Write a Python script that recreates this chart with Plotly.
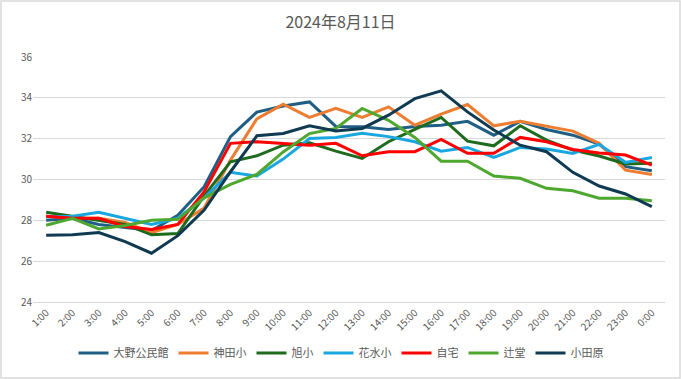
import plotly.graph_objects as go

hours = ["1:00","2:00","3:00","4:00","5:00","6:00","7:00","8:00","9:00","10:00","11:00","12:00",
         "13:00","14:00","15:00","16:00","17:00","18:00","19:00","20:00","21:00","22:00","23:00","0:00"]

ono = [28.0,28.1,27.8,27.65,27.5,28.25,29.65,32.1,33.3,33.6,33.8,32.6,
       32.58,32.45,32.6,32.66,32.85,32.17,32.85,32.45,32.17,31.73,30.63,30.43]
kanda = [28.2,28.1,28.1,27.9,27.4,27.8,28.6,30.95,32.97,33.69,33.04,33.48,
         33.04,33.56,32.66,33.2,33.67,32.63,32.85,32.6,32.37,31.77,30.46,30.25]
asahi = [28.4,28.2,28.0,27.8,27.29,27.35,29.2,30.87,31.16,31.68,31.8,31.39,
         31.03,31.85,32.45,33.04,31.88,31.65,32.63,31.93,31.44,31.15,30.76,30.79]
hanamizu = [28.18,28.2,28.4,28.1,27.8,28.1,29.1,30.35,30.17,31.0,32.01,32.06,
            32.26,32.1,31.85,31.39,31.57,31.08,31.57,31.49,31.28,31.72,30.84,31.08]
jitaku = [28.2,28.1,28.1,27.7,27.55,27.8,29.4,31.77,31.85,31.77,31.68,31.77,
          31.16,31.36,31.36,31.96,31.28,31.28,32.06,31.85,31.47,31.3,31.2,30.7]
tsujido = [27.76,28.1,27.58,27.75,28.0,28.05,29.1,29.76,30.25,31.35,32.25,32.5,
           33.48,32.9,32.06,30.9,30.9,30.17,30.06,29.57,29.45,29.08,29.08,28.96]
odawara = [27.27,27.3,27.4,26.96,26.39,27.25,28.5,30.38,32.14,32.25,32.63,32.38,
           32.5,33.15,33.96,34.34,33.31,32.42,31.68,31.36,30.35,29.68,29.29,28.67]

series = [
    ("大野公民館", ono, "#1F5F86"),
    ("神田小", kanda, "#ED7D31"),
    ("旭小", asahi, "#1E6B1E"),
    ("花水小", hanamizu, "#1AA7E0"),
    ("自宅", jitaku, "#FF0000"),
    ("辻堂", tsujido, "#4EA72E"),
    ("小田原", odawara, "#0F3A52"),
]

font = "Noto Sans CJK JP, Noto Sans, sans-serif"
fig = go.Figure()
for name, vals, color in series:
    fig.add_trace(go.Scatter(x=hours, y=vals, name=name, mode="lines",
                             line=dict(color=color, width=3)))

W, H = 681, 379
L, R, T, B = 33, 16, 57, 77
pw, ph = W - L - R, H - T - B

fig.update_layout(
    width=W, height=H,
    margin=dict(l=L, r=R, t=T, b=B, autoexpand=False),
    paper_bgcolor="white", plot_bgcolor="white",
    font=dict(family=font, color="#595959", size=10),
    title=dict(text="2024年8月11日", x=0.5, xanchor="center", y=1 - 22 / H, yanchor="middle",
               font=dict(size=16, color="#595959", family=font)),
    showlegend=True,
    legend=dict(orientation="h", x=(341 - L) / pw, xanchor="center",
                y=-(353 - (T + ph)) / ph, yanchor="middle",
                font=dict(size=11, color="#595959", family=font),
                itemwidth=30, tracegroupgap=0),
    shapes=[dict(type="rect", xref="paper", yref="paper",
                 x0=-(L - 1) / pw, x1=1 + (R - 1) / pw,
                 y0=-(B - 1) / ph, y1=1 + (T - 1) / ph,
                 line=dict(color="#D9D9D9", width=1.5), layer="below")],
)
fig.update_xaxes(type="category", range=[-0.5, 23.5], tickangle=-45, showgrid=False,
                 showline=True, linecolor="#D9D9D9", linewidth=1, ticks="", automargin=False,
                 tickfont=dict(size=10, color="#595959"))
fig.update_yaxes(range=[24, 36], dtick=2, showgrid=True, gridcolor="#D9D9D9", gridwidth=1,
                 zeroline=False, showline=False, ticks="", automargin=False,
                 tickfont=dict(size=10, color="#595959"))

fig.write_html("out.html", config={"displayModeBar": False},
               post_script="document.body.style.margin='0';document.body.style.overflow='hidden';")
